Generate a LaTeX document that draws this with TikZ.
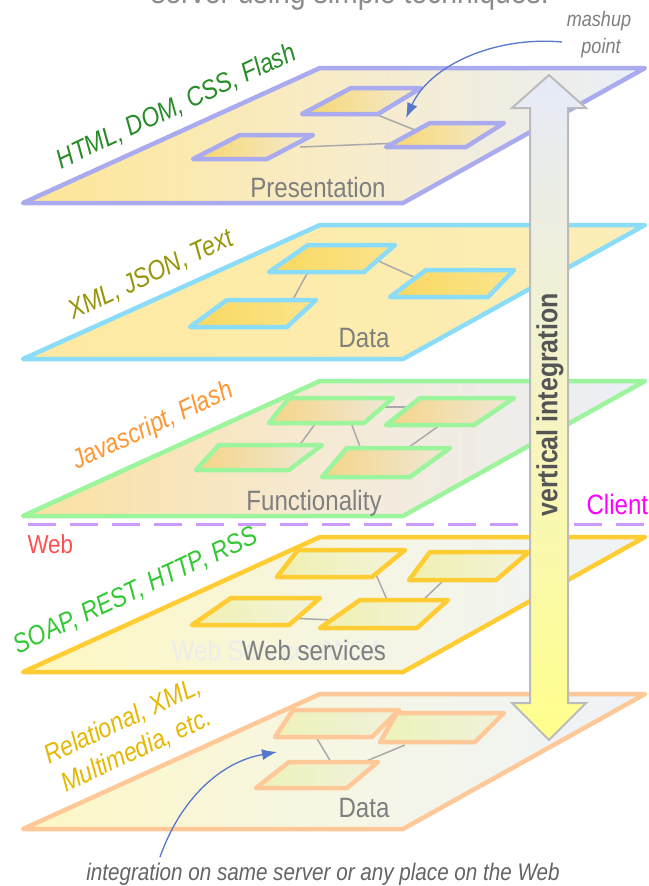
\documentclass[tikz,border=0pt]{standalone}
\usepackage{fontspec}
\setmainfont{Liberation Sans}[FakeStretch=0.86]
\usetikzlibrary{arrows.meta}
\definecolor{purpB}{HTML}{AAAAEE}
\definecolor{blueB}{HTML}{8ADCF8}
\definecolor{greenB}{HTML}{9CF59C}
\definecolor{goldB}{HTML}{FFCC33}
\definecolor{peachB}{HTML}{FFC898}
\definecolor{txtgray}{HTML}{7F7F7F}
\definecolor{connGray}{HTML}{AAAAAA}
\definecolor{arrowBlue}{HTML}{5577CC}
\definecolor{arrowBorder}{HTML}{BBBBBB}
\begin{document}
\begin{tikzpicture}[x=1pt,y=-1pt,
  layer/.style={line width=4.5pt, line join=round},
  sq/.style={line width=4.5pt, line join=round},
  conn/.style={draw=connGray, line width=1.5pt},
  laylabel/.style={text=txtgray, font=\fontsize{28}{32}\selectfont, anchor=base},
  sidelabel/.style={font=\itshape\fontsize{27}{30}\selectfont, rotate=25, anchor=base},
  curvearrow/.style={draw=arrowBlue, line width=1.3pt, -{Latex[length=15pt,width=11pt]}},
  bigarrow/.style={draw=arrowBorder, line width=2pt, line join=miter}
]
\useasboundingbox (0,0) rectangle (648,886);
\clip (0,0) rectangle (648,886);
\fill[white] (0,0) rectangle (648,886);

% title (clipped at the top edge, as in the reference)
\node[anchor=base, text=txtgray!90, font=\fontsize{33}{38}\selectfont] (title) at (350,4) {server using simple techniques.};

% ---------- Layer 1: Presentation ----------
\draw[layer, draw=purpB, left color={rgb,255:red,253;green,230;blue,150}, right color={rgb,255:red,233;green,238;blue,248}, middle color={rgb,255:red,248;green,236;blue,200}]
  (320,68) -- (645,68) -- (403,203) -- (23,203) -- cycle;
\coordinate (l1a) at (365,110); \coordinate (l1b) at (420,132);
\coordinate (l1c) at (300,147); \coordinate (l1d) at (400,143);
\draw[conn] (l1a) -- (l1b);
\draw[conn] (l1c) -- (l1d);
\draw[sq, draw=purpB, left color={rgb,255:red,247;green,214;blue,110}, right color={rgb,255:red,243;green,235;blue,211}] (351,88) -- (421,88) -- (378,114) -- (302,114) -- cycle;
\draw[sq, draw=purpB, left color={rgb,255:red,247;green,214;blue,110}, right color={rgb,255:red,243;green,235;blue,211}] (430,123) -- (504,123) -- (466,147) -- (386,147) -- cycle;
\draw[sq, draw=purpB, left color={rgb,255:red,247;green,214;blue,110}, right color={rgb,255:red,243;green,235;blue,211}] (240,135) -- (313,135) -- (267,159) -- (193,159) -- cycle;
\node[laylabel] (pres) at (318,197) {Presentation};
\node[sidelabel, text={rgb,255:red,40;green,140;blue,40}] (html) at (180,114) {HTML, DOM, CSS, Flash};

% ---------- Layer 2: Data ----------
\draw[layer, draw=blueB, left color={rgb,255:red,253;green,233;blue,160}, right color={rgb,255:red,252;green,238;blue,185}]
  (320,225) -- (645,225) -- (403,359) -- (23,359) -- cycle;
\coordinate (l2a) at (310,268); \coordinate (l2b) at (290,305);
\coordinate (l2c) at (365,255); \coordinate (l2d) at (425,282);
\draw[conn] (l2a) -- (l2b);
\draw[conn] (l2c) -- (l2d);
\draw[sq, draw=blueB, left color={rgb,255:red,249;green,216;blue,96}, right color={rgb,255:red,251;green,228;blue,140}] (308,245) -- (395,245) -- (364,272) -- (269,272) -- cycle;
\draw[sq, draw=blueB, left color={rgb,255:red,249;green,216;blue,96}, right color={rgb,255:red,251;green,228;blue,140}] (426,270) -- (514,270) -- (488,297) -- (390,297) -- cycle;
\draw[sq, draw=blueB, left color={rgb,255:red,249;green,216;blue,96}, right color={rgb,255:red,251;green,228;blue,140}] (227,300) -- (316,300) -- (287,327) -- (190,327) -- cycle;
\node[laylabel] (data1) at (364,347) {Data};
\node[sidelabel, text={rgb,255:red,150;green,150;blue,10}] (xml) at (154,282) {XML, JSON, Text};

% ---------- Layer 3: Functionality ----------
\draw[layer, draw=greenB, left color={rgb,255:red,251;green,224;blue,160}, right color={rgb,255:red,234;green,239;blue,248}, middle color={rgb,255:red,245;green,234;blue,214}]
  (320,381) -- (645,381) -- (403,516) -- (23,516) -- cycle;
\coordinate (l3a) at (384,407); \coordinate (l3b) at (424,407);
\coordinate (l3c) at (318,420); \coordinate (l3d) at (296,450);
\coordinate (l3e) at (350,420); \coordinate (l3f) at (362,452);
\coordinate (l3g) at (440,425); \coordinate (l3h) at (405,450);
\draw[conn] (l3a) -- (l3b);
\draw[conn] (l3c) -- (l3d);
\draw[conn] (l3e) -- (l3f);
\draw[conn] (l3g) -- (l3h);
\draw[sq, draw=greenB, left color={rgb,255:red,245;green,212;blue,135}, right color={rgb,255:red,239;green,233;blue,216}] (289,398) -- (393,398) -- (364,423) -- (269,423) -- cycle;
\draw[sq, draw=greenB, left color={rgb,255:red,245;green,212;blue,135}, right color={rgb,255:red,239;green,233;blue,216}] (420,398) -- (514,398) -- (474,425) -- (386,425) -- cycle;
\draw[sq, draw=greenB, left color={rgb,255:red,245;green,212;blue,135}, right color={rgb,255:red,239;green,233;blue,216}] (219,445) -- (322,445) -- (289,470) -- (196,470) -- cycle;
\draw[sq, draw=greenB, left color={rgb,255:red,245;green,212;blue,135}, right color={rgb,255:red,239;green,233;blue,216}] (347,448) -- (450,448) -- (410,477) -- (322,477) -- cycle;
\node[laylabel] (func) at (314,510) {Functionality};
\node[sidelabel, text={rgb,255:red,255;green,150;blue,50}] (js) at (156,433) {Javascript, Flash};

% dashed separator
\coordinate (dashL) at (28,524); \coordinate (dashR) at (648,524);
\draw[draw={rgb,255:red,204;green,153;blue,255}, line width=3pt, dash pattern=on 28pt off 14pt] (dashL) -- (dashR);
\node[anchor=base west, text={rgb,255:red,255;green,0;blue,255}, font=\fontsize{28}{32}\selectfont] (client) at (583,514) {Client};
\node[anchor=base west, text={rgb,255:red,255;green,80;blue,80}, font=\fontsize{26}{30}\selectfont] (web) at (24,553) {Web};

% ---------- Layer 4: Web services ----------
\draw[layer, draw=goldB, left color={rgb,255:red,253;green,247;blue,192}, right color={rgb,255:red,238;green,242;blue,248}, middle color={rgb,255:red,246;green,246;blue,225}]
  (320,537) -- (645,537) -- (403,672) -- (23,672) -- cycle;
\coordinate (l4a) at (374,570); \coordinate (l4b) at (388,602);
\coordinate (l4c) at (444,580); \coordinate (l4d) at (421,602);
\coordinate (l4e) at (289,618); \coordinate (l4f) at (331,620);
\draw[conn] (l4a) -- (l4b);
\draw[conn] (l4c) -- (l4d);
\draw[conn] (l4e) -- (l4f);
\draw[sq, draw=goldB, left color={rgb,255:red,240;green,240;blue,176}, right color={rgb,255:red,242;green,244;blue,220}] (298,550) -- (405,550) -- (372,577) -- (277,577) -- cycle;
\draw[sq, draw=goldB, left color={rgb,255:red,240;green,240;blue,176}, right color={rgb,255:red,242;green,244;blue,220}] (430,552) -- (529,552) -- (496,580) -- (409,580) -- cycle;
\draw[sq, draw=goldB, left color={rgb,255:red,240;green,240;blue,176}, right color={rgb,255:red,242;green,244;blue,220}] (231,598) -- (320,598) -- (289,625) -- (192,625) -- cycle;
\draw[sq, draw=goldB, left color={rgb,255:red,240;green,240;blue,176}, right color={rgb,255:red,242;green,244;blue,220}] (360,600) -- (448,600) -- (417,628) -- (320,628) -- cycle;
\node[laylabel, text={rgb,255:red,236;green,236;blue,236}] (ghost) at (278,660) {Web Services/WOA};
\node[laylabel] (ws) at (314,660) {Web services};
\node[sidelabel, text={rgb,255:red,50;green,200;blue,50}] (soap) at (139,598) {SOAP, REST, HTTP, RSS};

% ---------- Layer 5: Data ----------
\draw[layer, draw=peachB, left color={rgb,255:red,253;green,247;blue,197}, right color={rgb,255:red,238;green,242;blue,248}, middle color={rgb,255:red,246;green,246;blue,228}]
  (320,694) -- (645,694) -- (403,829) -- (23,829) -- cycle;
\coordinate (l5a) at (316,737); \coordinate (l5b) at (331,762);
\coordinate (l5c) at (405,745); \coordinate (l5d) at (364,762);
\draw[conn] (l5a) -- (l5b);
\draw[conn] (l5c) -- (l5d);
\draw[sq, draw=peachB, left color={rgb,255:red,238;green,242;blue,184}, right color={rgb,255:red,240;green,242;blue,220}] (293,710) -- (399,710) -- (372,737) -- (275,737) -- cycle;
\draw[sq, draw=peachB, left color={rgb,255:red,238;green,242;blue,184}, right color={rgb,255:red,240;green,242;blue,220}] (397,713) -- (504,713) -- (475,742) -- (380,742) -- cycle;
\draw[sq, draw=peachB, left color={rgb,255:red,238;green,242;blue,184}, right color={rgb,255:red,240;green,242;blue,220}] (289,762) -- (378,762) -- (347,788) -- (256,788) -- cycle;
\node[laylabel] (data2) at (364,817) {Data};
\node[sidelabel, anchor=base west, text={rgb,255:red,230;green,184;blue,0}] (rel1) at (46,766) {Relational, XML,};
\node[sidelabel, anchor=base west, text={rgb,255:red,230;green,184;blue,0}] (rel2) at (63,794) {Multimedia, etc.};

% ---------- vertical integration arrow ----------
\draw[bigarrow, top color={rgb,255:red,230;green,234;blue,248}, bottom color={rgb,255:red,255;green,255;blue,140}, middle color={rgb,255:red,246;green,244;blue,196}]
  (549,75) -- (586,108) -- (568,108) -- (568,703) -- (586,703) -- (549,740) -- (512,703) -- (530,703) -- (530,108) -- (512,108) -- cycle;
\node[rotate=90, text={rgb,255:red,85;green,85;blue,85}, font=\bfseries\fontsize{29}{32}\selectfont] (vi) at (550,405) {vertical integration};

% ---------- annotations ----------
\node[anchor=base, text=txtgray, font=\itshape\fontsize{21}{24}\selectfont] (mash1) at (599,26) {mashup};
\node[anchor=base, text=txtgray, font=\itshape\fontsize{21}{24}\selectfont] (mash2) at (601,53) {point};
\coordinate (mstart) at (562,42);
\coordinate (mend) at (406,118);
\draw[curvearrow] (mstart) .. controls (495,36) and (430,65) .. (mend);

\node[anchor=base, text={rgb,255:red,100;green,100;blue,100}, font=\itshape\fontsize{24}{28}\selectfont] (bottomtxt) at (323,880) {integration on same server or any place on the Web};
\coordinate (bstart) at (160,857);
\coordinate (bend) at (277,752);
\draw[curvearrow] (bstart) .. controls (180,800) and (220,762) .. (bend);
\end{tikzpicture}
\end{document}
